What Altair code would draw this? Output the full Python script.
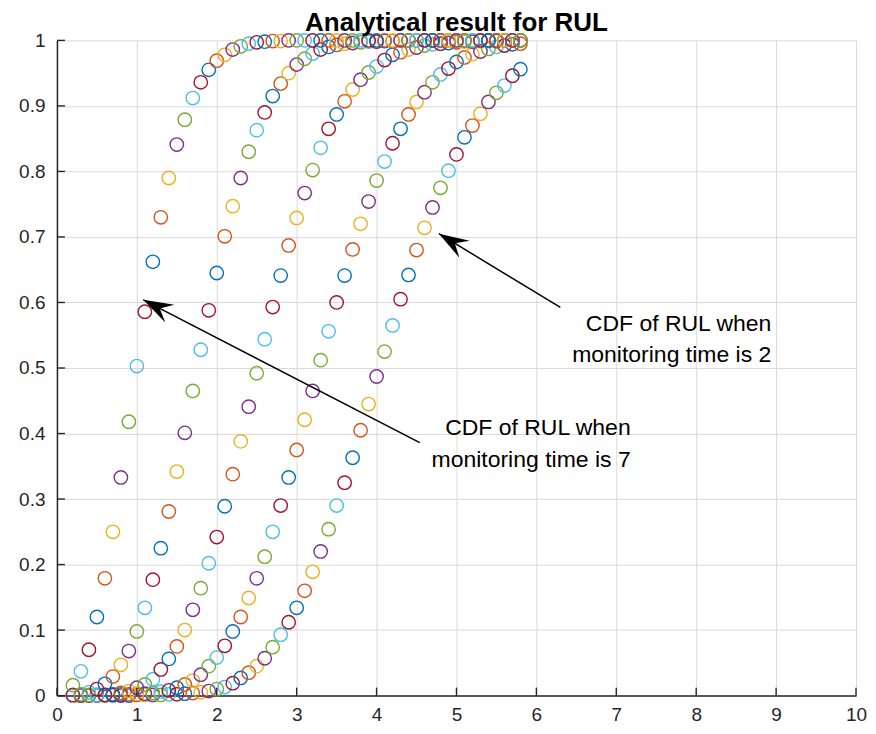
import math
import altair as alt
import pandas as pd

# ---------------- data ----------------
x_vals = [0.2, 0.3, 0.4, 0.5, 0.6, 0.7, 0.8, 0.9, 1.0, 1.1,
          1.2, 1.3, 1.4, 1.5, 1.6, 1.7, 1.8, 1.9, 2.0, 2.1,
          2.2, 2.3, 2.4, 2.5, 2.6, 2.7, 2.8, 2.9, 3.0, 3.1,
          3.2, 3.3, 3.4, 3.5, 3.6, 3.7, 3.8, 3.9, 4.0, 4.1,
          4.2, 4.3, 4.4, 4.5, 4.6, 4.7, 4.8, 4.9, 5.0, 5.1,
          5.2, 5.3, 5.4, 5.5, 5.6, 5.7, 5.8]

# curves in plotting order (first plotted = rightmost, monitoring time 2)
cdf_curve1 = [0.000, 0.000, 0.000, 0.000, 0.000, 0.000, 0.000, 0.000, 0.001, 0.001,
              0.001, 0.001, 0.002, 0.002, 0.003, 0.004, 0.005, 0.007, 0.010, 0.013,
              0.019, 0.027, 0.035, 0.045, 0.057, 0.074, 0.093, 0.112, 0.134, 0.160,
              0.189, 0.220, 0.254, 0.290, 0.325, 0.363, 0.405, 0.445, 0.487, 0.525,
              0.565, 0.605, 0.642, 0.680, 0.714, 0.745, 0.775, 0.801, 0.826, 0.852,
              0.870, 0.888, 0.906, 0.920, 0.931, 0.946, 0.956]

cdf_curve2 = [0.000, 0.000, 0.000, 0.001, 0.001, 0.001, 0.002, 0.002, 0.003, 0.003,
              0.004, 0.006, 0.008, 0.012, 0.017, 0.023, 0.032, 0.045, 0.058, 0.076,
              0.098, 0.120, 0.149, 0.179, 0.212, 0.250, 0.290, 0.333, 0.375, 0.421,
              0.465, 0.512, 0.556, 0.600, 0.641, 0.681, 0.720, 0.754, 0.786, 0.815,
              0.843, 0.865, 0.887, 0.906, 0.921, 0.936, 0.948, 0.957, 0.967, 0.974,
              0.979, 0.983, 0.987, 0.990, 0.992, 0.994, 0.995]

cdf_curve3 = [0.000, 0.000, 0.001, 0.001, 0.001, 0.002, 0.004, 0.007, 0.012, 0.017,
              0.025, 0.040, 0.056, 0.075, 0.100, 0.131, 0.164, 0.202, 0.242, 0.289,
              0.338, 0.388, 0.441, 0.492, 0.544, 0.593, 0.641, 0.687, 0.729, 0.767,
              0.802, 0.836, 0.865, 0.887, 0.907, 0.925, 0.940, 0.951, 0.960, 0.970,
              0.978, 0.982, 0.986, 0.989, 0.992, 0.994, 0.995, 0.996, 0.997, 0.998,
              0.998, 0.999, 0.999, 0.999, 1.000, 1.000, 1.000]

cdf_curve4 = [0.001, 0.002, 0.005, 0.010, 0.018, 0.029, 0.047, 0.068, 0.098, 0.134,
              0.177, 0.225, 0.281, 0.342, 0.401, 0.465, 0.528, 0.588, 0.645, 0.701,
              0.747, 0.790, 0.830, 0.863, 0.890, 0.915, 0.934, 0.950, 0.963, 0.972,
              0.980, 0.986, 0.990, 0.993, 0.995, 0.996, 0.997, 0.998, 0.998, 0.999,
              0.999, 1.000, 1.000, 1.000, 1.000, 1.000, 1.000, 1.000, 1.000, 1.000,
              1.000, 1.000, 1.000, 1.000, 1.000, 1.000, 1.000]

# last plotted = leftmost, monitoring time 7
cdf_curve5 = [0.016, 0.037, 0.070, 0.120, 0.179, 0.250, 0.333, 0.418, 0.503, 0.586,
              0.662, 0.730, 0.790, 0.841, 0.879, 0.912, 0.936, 0.955, 0.969, 0.978,
              0.986, 0.991, 0.995, 0.997, 0.998, 0.999, 0.999, 1.000, 1.000, 1.000,
              1.000, 1.000, 1.000, 1.000, 1.000, 1.000, 1.000, 1.000, 1.000, 1.000,
              1.000, 1.000, 1.000, 1.000, 1.000, 1.000, 1.000, 1.000, 1.000, 1.000,
              1.000, 1.000, 1.000, 1.000, 1.000, 1.000, 1.000]

curves = [cdf_curve1, cdf_curve2, cdf_curve3, cdf_curve4, cdf_curve5]

# MATLAB default colour order (each point is its own plot call -> colours cycle)
matlab_colors = ["#0072BD", "#D95319", "#EDB120", "#7E2F8E",
                 "#77AC30", "#4DBEEE", "#A2142F"]

x_ticks = [0, 1, 2, 3, 4, 5, 6, 7, 8, 9, 10]
y_ticks = [0, 0.1, 0.2, 0.3, 0.4, 0.5, 0.6, 0.7, 0.8, 0.9, 1.0]

# annotations (data coordinates)
ann_text = ["CDF of RUL when", "monitoring time is 2",
            "CDF of RUL when", "monitoring time is 7"]
ann_x = [8.94, 8.94, 7.18, 7.18]
ann_y = [0.557, 0.5095, 0.398, 0.3495]

arrow_head_x = [4.78, 1.08]
arrow_head_y = [0.705, 0.604]
arrow_tail_x = [6.30, 4.54]
arrow_tail_y = [0.5925, 0.386]

# ---------------- layout ----------------
W, H = 800, 656
XMIN, XMAX, YMIN, YMAX = 0, 10, 0, 1

rows = []
g = 0
for ci, ys in enumerate(curves):
    for xv, yv in zip(x_vals, ys):
        rows.append({"x": xv, "y": yv, "curve": ci + 1, "order": g, "c": g % 7})
        g += 1
pts = pd.DataFrame(rows)

xs = alt.Scale(domain=[XMIN, XMAX], nice=False, zero=False)
ys_ = alt.Scale(domain=[YMIN, YMAX], nice=False, zero=False)
x_axis = alt.Axis(values=x_ticks, format="d", labelPadding=10, orient="bottom",
                  labelFlush=False, title=None)
y_axis = alt.Axis(values=y_ticks, format=".1~f", labelPadding=12, orient="left",
                  labelFlush=False, title=None)


def X(field):
    return alt.X(field, scale=xs, axis=x_axis, title=None)


def Y(field):
    return alt.Y(field, scale=ys_, axis=y_axis, title=None)


points = alt.Chart(pts).mark_point(filled=False, size=180, strokeWidth=1.4, opacity=1).encode(
    x=X("x:Q"),
    y=Y("y:Q"),
    color=alt.Color("c:N", scale=alt.Scale(domain=list(range(7)), range=matlab_colors), legend=None),
    order=alt.Order("order:Q"),
)

ytick_layer = alt.Chart(pd.DataFrame({"yt": y_ticks})).mark_rule(
    color="#262626", strokeWidth=1.4).encode(
    y=Y("yt:Q"), x=alt.value(0), x2=alt.value(8))

xtick_layer = alt.Chart(pd.DataFrame({"xt": x_ticks})).mark_rule(
    color="#262626", strokeWidth=1.4).encode(
    x=X("xt:Q"), y=alt.value(H), y2=alt.value(H - 8))

px_x = W / (XMAX - XMIN)
px_y = H / (YMAX - YMIN)
angles = []
for hx, hy, tx, ty in zip(arrow_head_x, arrow_head_y, arrow_tail_x, arrow_tail_y):
    dx = (hx - tx) * px_x
    dy = -(hy - ty) * px_y
    angles.append(math.degrees(math.atan2(dx, -dy)) % 360)

arr = pd.DataFrame({"hx": arrow_head_x, "hy": arrow_head_y,
                    "tx": arrow_tail_x, "ty": arrow_tail_y, "ang": angles})

arrow_lines = alt.Chart(arr).mark_rule(color="black", strokeWidth=1.5).encode(
    x=X("tx:Q"), y=Y("ty:Q"), x2="hx:Q", y2="hy:Q")

arrow_heads = alt.Chart(arr).mark_point(
    shape="M0,0L0.33,1L0,0.62L-0.33,1Z", filled=True, color="black",
    size=3600, opacity=1, strokeWidth=0).encode(
    x=X("hx:Q"), y=Y("hy:Q"),
    angle=alt.Angle("ang:Q", scale=None))

ann = pd.DataFrame({"t": ann_text, "x": ann_x, "y": ann_y})
texts = alt.Chart(ann).mark_text(align="right", baseline="alphabetic",
                                 font="Liberation Sans", fontSize=23, color="black").encode(
    x=X("x:Q"), y=Y("y:Q"), text="t:N")

chart = alt.layer(points, ytick_layer, xtick_layer, arrow_lines, arrow_heads, texts).properties(
    width=W, height=H,
    title=alt.Title("Analytical result for RUL", dy=9),
    autosize=alt.AutoSizeParams(type="none"),
    padding={"left": 49, "top": 32, "right": 12, "bottom": 30},
).configure_view(stroke=None).configure_axis(
    grid=True, gridColor="#dadada", gridWidth=1,
    domainColor="#262626", domainWidth=1.5,
    ticks=False, tickSize=0,
    labelFont="Liberation Sans", labelFontSize=19, labelColor="#262626",
).configure_title(
    font="Liberation Sans", fontSize=26, fontWeight="bold", color="black",
    anchor="middle", offset=0,
)

chart.save("out.html", embed_options={"renderer": "svg", "actions": False})
